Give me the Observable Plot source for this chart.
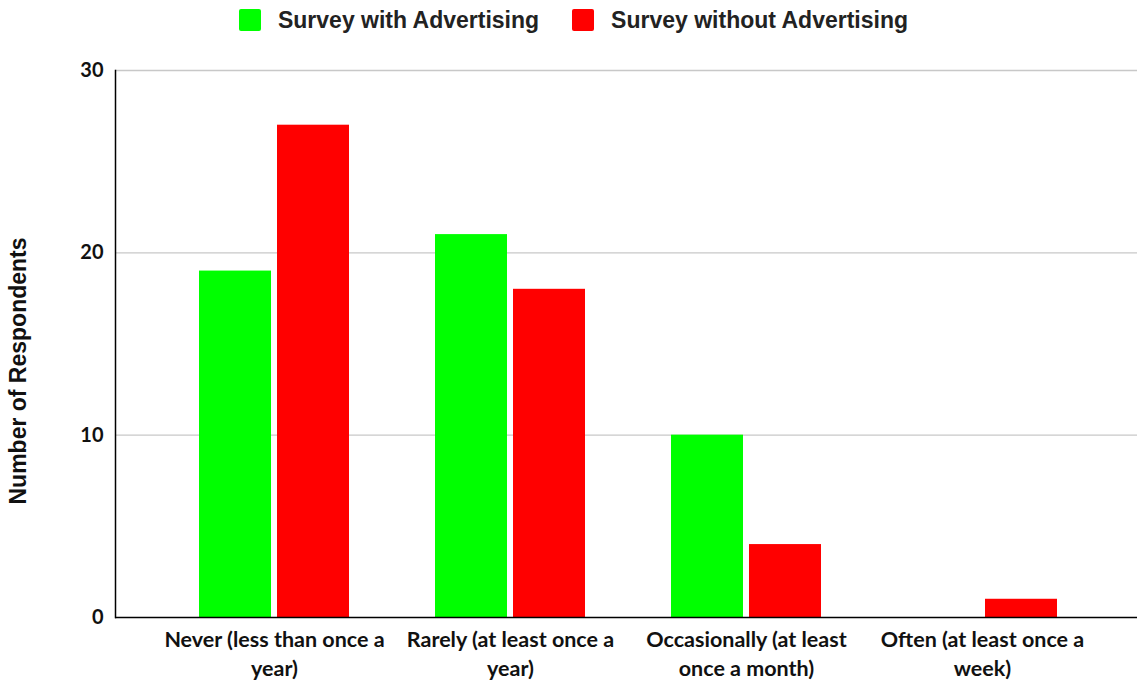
<!DOCTYPE html>
<html>
<head>
<meta charset="utf-8">
<script src="https://cdn.jsdelivr.net/npm/d3@7"></script>
<script src="https://cdn.jsdelivr.net/npm/@observablehq/plot@0.6"></script>
<style>
  html, body { margin: 0; padding: 0; background: #fff; }
  #legend { height: 40px; display: flex; justify-content: center; align-items: center; gap: 33px;
    font-family: "Liberation Sans", Arial, sans-serif; font-weight: 700; font-size: 23px; color: #222; padding-left: 10px; }
  .item { display: flex; align-items: center; gap: 17px; }
  .sw { width: 22px; height: 22px; border-radius: 2px; }
</style>
</head>
<body>
<div id="legend"></div>
<div id="chart"></div>
<script>
const categories = ["Never (less than once a year)", "Rarely (at least once a year)", "Occasionally (at least once a month)", "Often (at least once a week)"];
const tickLabels = ["Never (less than once a\nyear)", "Rarely (at least once a\nyear)", "Occasionally (at least\nonce a month)", "Often (at least once a\nweek)"];
const seriesNames = ["Survey with Advertising", "Survey without Advertising"];
const seriesColors = ["#00ff00", "#ff0000"];
const withAdvertising = [19, 21, 10, 0];
const withoutAdvertising = [27, 18, 4, 1];
const yTicks = [0, 10, 20, 30];
const yLabel = "Number of Respondents";

const rowsWith = categories.map((c, i) => ({category: c, value: withAdvertising[i]}));
const rowsWithout = categories.map((c, i) => ({category: c, value: withoutAdvertising[i]}));
const labelRows = categories.map((c, i) => ({category: c, label: tickLabels[i]}));

const legend = document.getElementById("legend");
seriesNames.forEach((s, i) => {
  const it = document.createElement("div"); it.className = "item";
  const sw = document.createElement("div"); sw.className = "sw"; sw.style.background = seriesColors[i];
  const t = document.createElement("span"); t.textContent = s;
  it.appendChild(sw); it.appendChild(t); legend.appendChild(it);
});

const tickFont = "Lato, 'Open Sans', sans-serif";

const chart = Plot.plot({
  width: 1137,
  height: 642,
  marginLeft: 115,
  marginRight: 0,
  marginTop: 30,
  marginBottom: 65,
  style: {background: "#fff", overflow: "visible"},
  x: {domain: categories, range: [156, 1100], padding: 0, axis: null},
  y: {domain: [0, 30], axis: null},
  marks: [
    Plot.gridY(yTicks.filter(d => d > 0), {stroke: "#c8c8c8", strokeOpacity: 1, strokeWidth: 1.3}),
    Plot.barY(rowsWith, {x: "category", y: "value", fill: seriesColors[0], insetLeft: 43, insetRight: 121}),
    Plot.barY(rowsWithout, {x: "category", y: "value", fill: seriesColors[1], insetLeft: 121, insetRight: 43}),
    Plot.ruleY([0], {stroke: "#000", strokeWidth: 1.5}),
    Plot.frame({anchor: "left", stroke: "#000", strokeWidth: 1.5}),
    Plot.axisY(yTicks, {tickSize: 0, tickPadding: 12, fontSize: 20, fontWeight: 700, fontFamily: tickFont, fill: "#111", label: null}),
    Plot.text(labelRows, {x: "category", text: "label", frameAnchor: "bottom", lineAnchor: "top", dy: 9, lineHeight: 1.34,
      fontSize: 21.5, fontWeight: 700, fontFamily: tickFont, fill: "#111"}),
    Plot.text([yLabel], {frameAnchor: "left", textAnchor: "middle", rotate: -90, dx: -97, dy: 27, fontSize: 23, fontWeight: 700,
      fontFamily: "'Liberation Sans', Arial, sans-serif", fill: "#111"})
  ]
});
document.getElementById("chart").appendChild(chart);
</script>
</body>
</html>
